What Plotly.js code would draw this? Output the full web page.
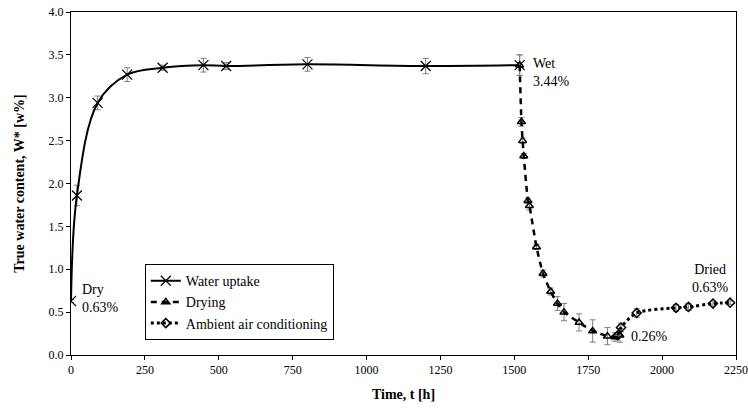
<!DOCTYPE html>
<html><head><meta charset="utf-8">
<script src="https://cdn.plot.ly/plotly-3.0.1.min.js"></script>
<style>html,body{margin:0;padding:0;background:#fff}#chart{width:748px;height:409px}</style>
</head><body><div id="chart"></div>
<script>
// Water uptake
const uptakeT = [0, 20, 90, 190, 310, 448, 525, 800, 1200, 1518];
const uptakeW = [0.63, 1.86, 2.94, 3.27, 3.35, 3.38, 3.37, 3.39, 3.37, 3.38];
const uptakeErr = [0.02, 0.12, 0.08, 0.08, 0.03, 0.08, 0.04, 0.08, 0.09, 0.12];
// Drying
const dryT = [1518, 1524, 1528, 1532, 1546, 1551, 1575, 1597, 1623, 1646, 1668, 1719, 1765, 1815, 1840, 1857];
const dryW = [3.38, 2.72, 2.50, 2.32, 1.80, 1.74, 1.26, 0.95, 0.74, 0.60, 0.50, 0.38, 0.28, 0.22, 0.21, 0.23];
const dryErr = [0.12, 0.05, 0.03, 0.03, 0.03, 0.05, 0.03, 0.04, 0.04, 0.08, 0.1, 0.1, 0.13, 0.1, 0.05, 0.08];
// Ambient air conditioning
const ambT = [1850, 1861, 1914, 2047, 2089, 2172, 2230];
const ambW = [0.23, 0.32, 0.49, 0.55, 0.56, 0.60, 0.61];
const ambErr = [0.0, 0.05, 0.05, 0.04, 0.04, 0.03, 0.02];

const xTicks = [0, 250, 500, 750, 1000, 1250, 1500, 1750, 2000, 2250];
const yTicks = [0, 0.5, 1.0, 1.5, 2.0, 2.5, 3.0, 3.5, 4.0];

const FONT = '"Liberation Serif", "DejaVu Serif", serif';
const errStyle = {type: 'data', visible: true, color: '#7f7f7f', thickness: 1, width: 3};

const traces = [
  {x: uptakeT, y: uptakeW, name: 'Water uptake', mode: 'lines+markers',
   line: {color: '#000', width: 2, shape: 'spline', smoothing: 1},
   marker: {symbol: 'x-thin-open', size: 10, color: '#000', line: {color: '#000', width: 1.2}},
   error_y: Object.assign({array: uptakeErr}, errStyle)},
  {x: dryT, y: dryW, name: 'Drying', mode: 'lines+markers',
   line: {color: '#000', width: 2.5, dash: '6px,5px', shape: 'spline', smoothing: 0.6},
   marker: {symbol: 'triangle-up-open', size: 7, color: '#000', line: {color: '#000', width: 1.5}},
   error_y: Object.assign({array: dryErr}, errStyle)},
  {x: ambT, y: ambW, name: 'Ambient air conditioning', mode: 'lines+markers',
   line: {color: '#000', width: 3, dash: 'dot', shape: 'spline', smoothing: 0.8},
   marker: {symbol: 'diamond-open', size: 7, color: '#000', line: {color: '#000', width: 1.5}},
   error_y: Object.assign({array: ambErr}, errStyle)}
];

const ann = (x, y, text, xa, align) => ({x, y, xref: 'x', yref: 'y', text, showarrow: false,
  xanchor: xa, yanchor: 'middle', align, font: {family: FONT, size: 14, color: '#000'}});

const layout = {
  width: 748, height: 409,
  margin: {l: 71, r: 12, t: 12, b: 54},
  paper_bgcolor: '#fff', plot_bgcolor: '#fff',
  font: {family: FONT, size: 12, color: '#000'},
  showlegend: true,
  legend: {x: 0.111, y: 0.265, xanchor: 'left', yanchor: 'top', bordercolor: '#000', borderwidth: 1,
    bgcolor: '#fff', font: {family: FONT, size: 14, color: '#000'}, tracegroupgap: 0},
  xaxis: {range: [0, 2250], tickvals: xTicks, ticktext: xTicks.map(String), ticks: 'outside', ticklen: 4,
    tickcolor: '#000', showline: true, linecolor: '#000', linewidth: 1, mirror: true, showgrid: false, zeroline: false,
    tickfont: {family: FONT, size: 12, color: '#000'},
    title: {text: '<b>Time, t [h]</b>', font: {family: FONT, size: 14, color: '#000'}, standoff: 12}},
  yaxis: {range: [0, 4], tickvals: yTicks, ticktext: yTicks.map(v => v.toFixed(1)), ticks: 'outside', ticklen: 4,
    tickcolor: '#000', showline: true, linecolor: '#000', linewidth: 1, mirror: true, showgrid: false, zeroline: false,
    tickfont: {family: FONT, size: 12, color: '#000'},
    title: {text: '<b>True water content, W* [w%]</b>', font: {family: FONT, size: 14, color: '#000'}, standoff: 20}},
  annotations: [
    ann(30, 0.66, 'Dry<br>0.63%', 'left', 'left'),
    ann(1558, 3.29, 'Wet<br>3.44%', 'left', 'left'),
    ann(2165, 0.89, 'Dried<br>0.63%', 'center', 'center'),
    ann(1887, 0.21, '0.26%', 'left', 'left')
  ]
};

Plotly.newPlot('chart', traces, layout, {displayModeBar: false, staticPlot: true});
</script></body></html>
